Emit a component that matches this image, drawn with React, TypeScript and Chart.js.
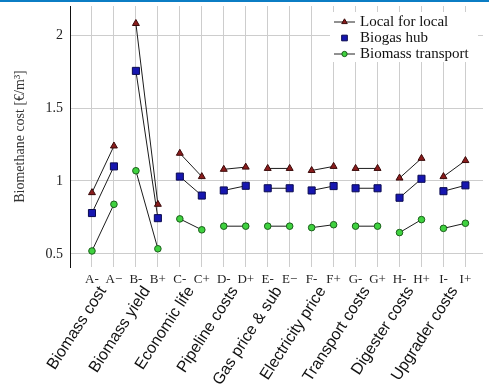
import React, { useEffect, useRef } from 'react';
import { Chart, registerables } from 'chart.js';
import { drawPoint } from 'chart.js/helpers';

Chart.register(...registerables);

const tickLabels = ['A-', 'A−', 'B-', 'B+', 'C-', 'C+', 'D-', 'D+', 'E-', 'E−', 'F-', 'F+', 'G-', 'G+', 'H-', 'H+', 'I-', 'I+'];
const groupLabels = ['Biomass cost', 'Biomass yield', 'Economic life', 'Pipeline costs', 'Gas price & sub', 'Electricity price', 'Transport costs', 'Digester costs', 'Upgrader costs'];
const localForLocal = [0.92, 1.24, 2.08, 0.84, 1.19, 1.03, 1.08, 1.095, 1.086, 1.086, 1.072, 1.1, 1.086, 1.086, 1.02, 1.155, 1.03, 1.14];
const biogasHub = [0.78, 1.1, 1.755, 0.745, 1.03, 0.9, 0.935, 0.967, 0.95, 0.95, 0.935, 0.965, 0.95, 0.95, 0.885, 1.015, 0.93, 0.97];
const biomassTransport = [0.52, 0.84, 1.07, 0.535, 0.74, 0.665, 0.69, 0.69, 0.69, 0.69, 0.68, 0.7, 0.69, 0.69, 0.646, 0.735, 0.675, 0.71];
const yTicks = [0.5, 1, 1.5, 2];
const seriesNames = ['Local for local', 'Biogas hub', 'Biomass transport'];

const SERIF = "'Liberation Serif', 'DejaVu Serif', serif";
const SANS = "'Liberation Sans', Arial, sans-serif";
const GRID = '#cdcdcd';

function toPairs(values: number[]) {
  const pts: { x: number; y: number | null }[] = [];
  values.forEach((v, i) => {
    pts.push({ x: i + 1, y: v });
    if (i % 2 === 1) pts.push({ x: i + 1.5, y: null });
  });
  return pts;
}

const styles = [
  { pointStyle: 'triangle', radius: 4, bg: '#8a1c1c', border: '#3a0a0a', line: true },
  { pointStyle: 'rect', radius: 5, bg: '#1616b0', border: '#0a0a50', line: false },
  { pointStyle: 'circle', radius: 3.3, bg: '#3fd23f', border: '#1b5e1b', line: true },
];

const legendPlugin = {
  id: 'customLegend',
  afterDraw(chart: any) {
    const ctx = chart.ctx as CanvasRenderingContext2D;
    ctx.save();
    ctx.fillStyle = '#ffffff';
    ctx.fillRect(330, 12, 148, 50);
    const ys = [22, 38, 54];
    seriesNames.forEach((name, i) => {
      const st = styles[i];
      const y = ys[i];
      if (st.line) {
        ctx.strokeStyle = '#222';
        ctx.lineWidth = 1;
        ctx.beginPath();
        ctx.moveTo(334, y);
        ctx.lineTo(355, y);
        ctx.stroke();
      }
      ctx.fillStyle = st.bg;
      ctx.strokeStyle = st.border;
      ctx.lineWidth = 1;
      drawPoint(ctx, { pointStyle: st.pointStyle as any, radius: st.radius * 0.8, rotation: 0, borderWidth: 1 } as any, 344.5, y);
      ctx.fillStyle = '#111';
      ctx.font = `15px ${SERIF}`;
      ctx.textBaseline = 'middle';
      ctx.textAlign = 'left';
      ctx.fillText(name, 360, y);
    });
    ctx.restore();
  },
};

export default function App() {
  const ref = useRef<HTMLCanvasElement>(null);
  useEffect(() => {
    document.body.style.margin = '0';
    const series = [localForLocal, biogasHub, biomassTransport];
    const chart = new Chart(ref.current!, {
      type: 'line',
      data: {
        datasets: series.map((vals, i) => ({
          label: seriesNames[i],
          data: toPairs(vals) as any,
          borderColor: '#1c1c1c',
          borderWidth: 1,
          pointStyle: styles[i].pointStyle as any,
          pointRadius: styles[i].radius,
          pointBackgroundColor: styles[i].bg,
          pointBorderColor: styles[i].border,
          pointBorderWidth: 1,
          spanGaps: false,
          tension: 0,
          fill: false,
        })),
      },
      options: {
        animation: false,
        responsive: false,
        devicePixelRatio: 1,
        layout: { padding: { top: 5, left: 0, right: 0, bottom: 0 } },
        plugins: { legend: { display: false }, tooltip: { enabled: false } },
        scales: {
          x: {
            type: 'linear',
            min: 0,
            max: 18.8,
            position: 'bottom',
            afterBuildTicks: (s: any) => {
              s.ticks = tickLabels.map((_, i) => ({ value: i + 1 }));
            },
            afterFit: (s: any) => {
              s.height = 8;
              s.paddingLeft = 0;
              s.paddingRight = 0;
              s._computeLabelArea = () => undefined;
            },
            ticks: {
              autoSkip: false,
              minRotation: 0,
              maxRotation: 0,
              padding: 5,
              color: '#222',
              font: { family: SERIF, size: 13 },
              callback: (v: any) => tickLabels[Math.round(Number(v)) - 1] ?? '',
            },
            grid: { color: GRID, lineWidth: 1, drawTicks: false },
            border: { display: false },
          },
          x2: {
            type: 'linear',
            min: 0,
            max: 18.8,
            position: 'bottom',
            afterBuildTicks: (s: any) => {
              s.ticks = groupLabels.map((_, i) => ({ value: 2 * i + 1.5 }));
            },
            afterFit: (s: any) => {
              s.height = 111;
              s.paddingLeft = 0;
              s.paddingRight = 0;
              s._computeLabelArea = () => undefined;
            },
            ticks: {
              autoSkip: false,
              minRotation: 57,
              maxRotation: 57,
              padding: 8,
              color: '#111',
              font: { family: SANS, size: 16 },
              callback: (v: any) => groupLabels[Math.round((Number(v) - 1.5) / 2)] ?? '',
            },
            grid: { display: false, drawTicks: false },
            border: { display: false },
          },
          y: {
            type: 'linear',
            min: 0.41,
            max: 2.2,
            afterBuildTicks: (s: any) => {
              s.ticks = yTicks.map((v) => ({ value: v }));
            },
            afterFit: (s: any) => {
              s.width = 70;
              s.paddingTop = 0;
              s.paddingBottom = 0;
            },
            ticks: {
              padding: 7,
              color: '#222',
              font: { family: SERIF, size: 14 },
              callback: (v: any) => String(v),
            },
            grid: { color: GRID, lineWidth: 1, drawTicks: false },
            border: { display: true, color: '#111', width: 1 },
            title: {
              display: true,
              text: 'Biomethane cost [€/m³]',
              color: '#333',
              font: { family: SERIF, size: 14 },
              padding: { top: 12, bottom: 0 },
            },
          },
        },
      },
      plugins: [legendPlugin],
    });
    return () => chart.destroy();
  }, []);
  return (
    <div style={{ position: 'relative', width: 489, height: 386, overflow: 'hidden', background: '#fff' }}>
      <canvas ref={ref} width={489} height={386} style={{ display: 'block' }} />
      <div style={{ position: 'absolute', left: 0, top: 0, width: '100%', height: 2, background: '#0b7dc4' }} />
    </div>
  );
}
